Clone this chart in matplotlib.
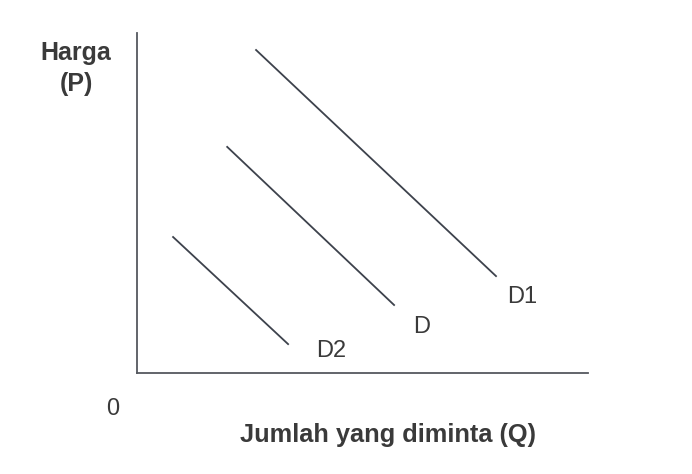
import matplotlib.pyplot as plt

plt.rcParams['font.family'] = ['Liberation Sans', 'DejaVu Sans']

# demand curves: (Q start, P start) -> (Q end, P end)
curves = ['D1', 'D', 'D2']
q_start = [2.64, 2.0, 0.80]
p_start = [9.50, 6.65, 4.00]
q_end = [7.96, 5.70, 3.35]
p_end = [2.85, 2.00, 0.85]
label_q = [8.54, 6.30, 4.30]
label_p = [2.24, 1.35, 0.65]

line_col = '#3d424c'
text_col = '#3a3a3a'

fig = plt.figure(figsize=(6.92, 4.74), dpi=100)
ax = fig.add_axes([137/692, (474-373)/474, (588-137)/692, (373-33)/474])
ax.set_xlim(0, 10)
ax.set_ylim(0, 10)

for i in range(len(curves)):
    ax.plot([q_start[i], q_end[i]], [p_start[i], p_end[i]], color=line_col, lw=1.3)
    ax.text(label_q[i], label_p[i], curves[i], fontsize=17, color=text_col,
            ha='center', va='center')

# only the two axes, no ticks
for s in ['top', 'right']:
    ax.spines[s].set_visible(False)
for s in ['left', 'bottom']:
    ax.spines[s].set_color('#55585f')
    ax.spines[s].set_linewidth(1.3)
ax.set_xticks([])
ax.set_yticks([])

fig.text(76/692, 1-53/474, 'Harga', fontsize=18, fontweight='bold', color=text_col,
         ha='center', va='center')
fig.text(76/692, 1-84/474, '(P)', fontsize=18, fontweight='bold', color=text_col,
         ha='center', va='center')
fig.text(113/692, 1-409/474, '0', fontsize=17, color=text_col, ha='center', va='center')
fig.text(388/692, 1-435/474, 'Jumlah yang diminta (Q)', fontsize=18.3, fontweight='bold',
         color=text_col, ha='center', va='center')

fig.savefig('out.png', dpi=100)
